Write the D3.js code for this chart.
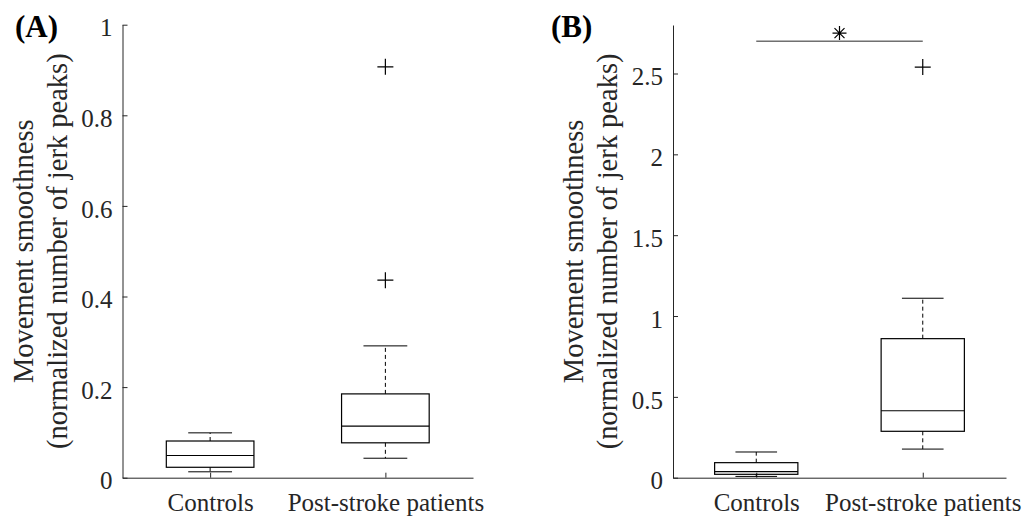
<!DOCTYPE html>
<html>
<head>
<meta charset="utf-8">
<script src="https://cdn.jsdelivr.net/npm/d3@7"></script>
<style>
  body { margin: 0; background: #fff; }
  svg text { font-family: "Liberation Serif", "Times New Roman", serif; fill: #262626; }
</style>
</head>
<body>
<div id="chart"></div>
<script>
let w = 1029,
    h = 518;

// data
let categories = ["Controls", "Post-stroke patients"];

// panel A : box stats per group
let boxA = [
  { lo: 0.013, q1: 0.023, med: 0.049, q3: 0.081, hi: 0.099, out: [] },
  { lo: 0.043, q1: 0.077, med: 0.114, q3: 0.185, hi: 0.291, out: [0.436, 0.907] }
];
// panel B : box stats per group
let boxB = [
  { lo: 0.008, q1: 0.021, med: 0.037, q3: 0.093, hi: 0.159, out: [] },
  { lo: 0.177, q1: 0.287, med: 0.414, q3: 0.86, hi: 1.11, out: [2.54] }
];

let ticksA = [0, 0.2, 0.4, 0.6, 0.8, 1];
let ticksB = [0, 0.5, 1, 1.5, 2, 2.5];
let ylimA = [0, 1];
let ylimB = [0, 2.8];
let sigB = { from: 1, to: 2, y: 2.7, star: 2.75 };

let svg = d3.select("#chart")
            .append("svg")
            .attr("width", w)
            .attr("height", h);

function drawPanel(opt) {
  let x = d3.scaleLinear().domain([0.5, 2.5]).range([opt.left, opt.right]);
  let y = d3.scaleLinear().domain(opt.ylim).range([opt.bottom, opt.top]);
  let g = svg.append("g");

  // y axis, ticks pointing inward
  let yAxis = g.append("g")
    .attr("transform", "translate(" + opt.left + ",0)")
    .call(d3.axisLeft(y).tickValues(opt.ticks).tickSizeInner(-5).tickSizeOuter(0).tickPadding(10)
      .tickFormat(d3.format("~g")));
  yAxis.selectAll("text").attr("font-size", 25).attr("dy", "0.45em")
    .style("font-family", "Liberation Serif").style("fill", "#262626");

  // x axis
  let xAxis = g.append("g")
    .attr("transform", "translate(0," + opt.bottom + ")")
    .call(d3.axisBottom(x).tickValues([1, 2]).tickSizeInner(-5).tickSizeOuter(0).tickPadding(16)
      .tickFormat((d, i) => categories[i]));
  xAxis.selectAll("text").attr("font-size", 25)
    .style("font-family", "Liberation Serif").style("fill", "#262626");

  g.selectAll(".domain, .tick line").attr("stroke", "#262626").attr("stroke-width", 1);

  // y label, two lines
  let lbl = g.append("text")
    .attr("transform", "translate(" + (opt.left - 90) + "," + ((opt.top + opt.bottom) / 2) + ") rotate(-90)")
    .attr("text-anchor", "middle")
    .attr("font-size", 28.5);
  lbl.append("tspan").attr("x", 0).attr("y", 0).text("Movement smoothness");
  lbl.append("tspan").attr("x", 0).attr("y", 34).text("(normalized number of jerk peaks)");

  // panel letter
  g.append("text")
    .attr("x", opt.letterX)
    .attr("y", 37)
    .attr("font-size", 31)
    .attr("font-weight", "bold")
    .style("fill", "#000")
    .text(opt.letter);

  let bw = 0.25, cw = 0.125;
  let boxes = g.selectAll(".box")
    .data(opt.data)
    .enter()
    .append("g")
    .attr("class", "box");

  // dashed whiskers
  boxes.append("line")
    .attr("x1", (d, i) => x(i + 1)).attr("x2", (d, i) => x(i + 1))
    .attr("y1", d => y(d.q3)).attr("y2", d => y(d.hi))
    .attr("stroke", "#000").attr("stroke-dasharray", "4,3");
  boxes.append("line")
    .attr("x1", (d, i) => x(i + 1)).attr("x2", (d, i) => x(i + 1))
    .attr("y1", d => y(d.q1)).attr("y2", d => y(d.lo))
    .attr("stroke", "#000").attr("stroke-dasharray", "4,3");
  // caps
  boxes.append("line")
    .attr("x1", (d, i) => x(i + 1 - cw)).attr("x2", (d, i) => x(i + 1 + cw))
    .attr("y1", d => y(d.hi)).attr("y2", d => y(d.hi))
    .attr("stroke", "#000");
  boxes.append("line")
    .attr("x1", (d, i) => x(i + 1 - cw)).attr("x2", (d, i) => x(i + 1 + cw))
    .attr("y1", d => y(d.lo)).attr("y2", d => y(d.lo))
    .attr("stroke", "#000");
  // box
  boxes.append("rect")
    .attr("x", (d, i) => x(i + 1 - bw))
    .attr("width", (d, i) => x(i + 1 + bw) - x(i + 1 - bw))
    .attr("y", d => y(d.q3))
    .attr("height", d => y(d.q1) - y(d.q3))
    .attr("fill", "none").attr("stroke", "#000").attr("stroke-width", 1.2);
  // median
  boxes.append("line")
    .attr("x1", (d, i) => x(i + 1 - bw)).attr("x2", (d, i) => x(i + 1 + bw))
    .attr("y1", d => y(d.med)).attr("y2", d => y(d.med))
    .attr("stroke", "#000").attr("stroke-width", 1.2);

  // outliers as + markers
  let outs = [];
  opt.data.forEach((d, i) => d.out.forEach(v => outs.push({ x: i + 1, v: v })));
  g.selectAll(".out")
    .data(outs)
    .enter()
    .append("path")
    .attr("class", "out")
    .attr("transform", d => "translate(" + x(d.x) + "," + y(d.v) + ")")
    .attr("d", "M-8,0H8M0,-8V8")
    .attr("stroke", "#000").attr("stroke-width", 1.2);

  if (opt.sig) {
    let s = opt.sig;
    g.append("line")
      .attr("x1", x(s.from)).attr("x2", x(s.to))
      .attr("y1", y(s.y)).attr("y2", y(s.y))
      .attr("stroke", "#262626");
    g.append("path")
      .attr("transform", "translate(" + x((s.from + s.to) / 2) + "," + y(s.star) + ")")
      .attr("d", "M0,-7V7M-7,0H7M-5,-5L5,5M-5,5L5,-5")
      .attr("stroke", "#000").attr("stroke-width", 1.2);
  }
}

drawPanel({ left: 122.5, right: 473, top: 24.7, bottom: 477.7, ylim: ylimA, ticks: ticksA,
            data: boxA, letter: "(A)", letterX: 15 });
drawPanel({ left: 673, right: 1006, top: 25, bottom: 477.7, ylim: ylimB, ticks: ticksB,
            data: boxB, letter: "(B)", letterX: 551, sig: sigB });
</script>
</body>
</html>
